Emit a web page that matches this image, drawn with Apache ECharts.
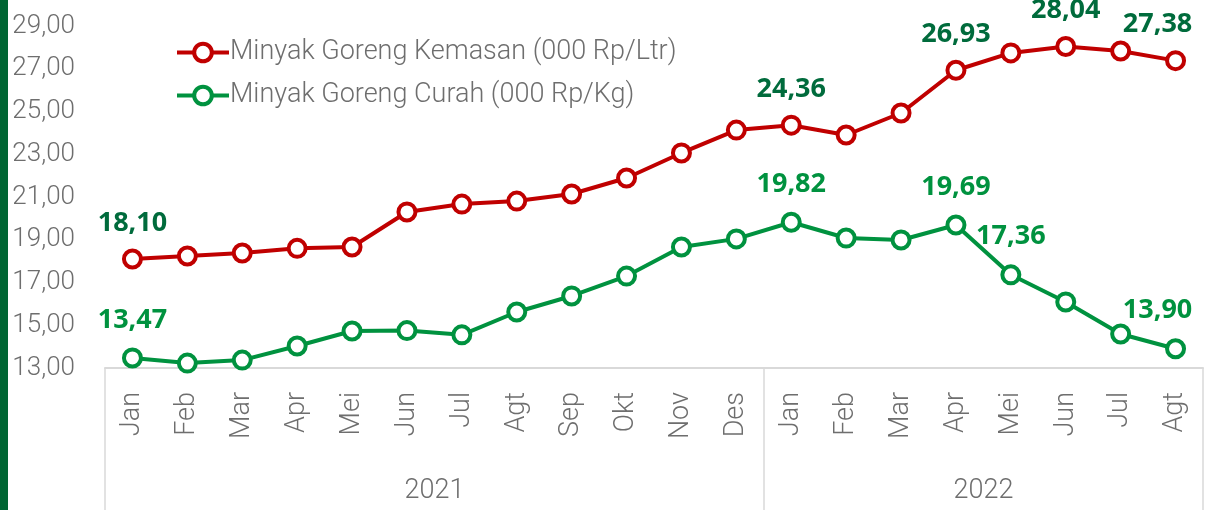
<!DOCTYPE html>
<html>
<head>
<meta charset="utf-8">
<script src="https://cdn.jsdelivr.net/npm/echarts@6/dist/echarts.min.js"></script>
<style>
  html, body { margin: 0; padding: 0; background: #fff; }
  #chart { width: 1206px; height: 510px; }
</style>
</head>
<body>
<div id="chart"></div>
<script>
var months = ['Jan', 'Feb', 'Mar', 'Apr', 'Mei', 'Jun', 'Jul', 'Agt', 'Sep', 'Okt', 'Nov', 'Des',
  'Jan', 'Feb', 'Mar', 'Apr', 'Mei', 'Jun', 'Jul', 'Agt']
var years = ['2021', '2022']
var yearStart = [0, 12, 20] // boundaries between years (month index)

var kemasan = [18.10, 18.24, 18.38, 18.60, 18.66, 20.30, 20.67, 20.81, 21.14, 21.89, 23.06, 24.13,
  24.36, 23.90, 24.93, 26.93, 27.74, 28.04, 27.83, 27.38]
var curah = [13.47, 13.23, 13.37, 14.03, 14.73, 14.75, 14.55, 15.62, 16.37, 17.30, 18.66, 19.04,
  19.82, 19.08, 18.99, 19.69, 17.36, 16.09, 14.59, 13.90]

var kemasanLabelIdx = [0, 12, 15, 17, 19]
var curahLabelIdx = [0, 12, 15, 16, 19]

var fmt = function(v) { return v.toFixed(2).replace('.', ',') }

function withLabels(values, idxs) {
  return values.map(function(v, i) {
    var item = { value: v }
    if (idxs.indexOf(i) >= 0) {
      item.label = { show: true }
      if (i === values.length - 1) item.label.offset = [-18, 0]
    }
    return item
  })
}

// year axis sits on the month boundaries: 21 slots
var yearSlots = []
for (var i = 0; i <= months.length; i++) yearSlots.push('')
for (var y = 0; y < years.length; y++) {
  yearSlots[Math.round((yearStart[y] + yearStart[y + 1]) / 2)] = years[y]
}

var axisFont = 'Roboto'
var axisWeight = 300
var gray = '#6e6e6e'
var lineGray = '#d9d9d9'

var chart = echarts.init(document.getElementById('chart'))

var option = {
  animation: false,
  grid: { left: 105, right: 1, top: 26, bottom: 142 },
  graphic: [{
    type: 'rect', left: 0, top: 0,
    shape: { width: 8, height: 510 },
    style: { fill: '#006633' }
  }],
  legend: {
    orient: 'vertical',
    left: 170,
    top: 34,
    itemWidth: 52,
    itemHeight: 22,
    itemGap: 16,
    lineStyle: { width: 4 },
    itemStyle: { borderWidth: 4 },
    textStyle: { fontFamily: axisFont, fontWeight: axisWeight, fontSize: 27, color: gray, padding: [0, 0, 0, -4] }
  },
  xAxis: [{
    type: 'category',
    data: months,
    axisLine: { lineStyle: { color: lineGray, width: 2 } },
    axisTick: { interval: 0, length: 79, lineStyle: { color: lineGray, width: 1.5 } },
    axisLabel: {
      interval: 0, rotate: 90, margin: 24,
      fontFamily: axisFont, fontWeight: axisWeight, fontSize: 27, color: gray
    }
  }, {
    type: 'category',
    data: yearSlots,
    boundaryGap: false,
    position: 'bottom',
    axisLine: { show: false },
    axisTick: {
      show: true, length: 142,
      interval: function(idx) { return yearStart.indexOf(idx) >= 0 },
      lineStyle: { color: lineGray, width: 1.5 }
    },
    axisLabel: {
      interval: 0, margin: 110,
      fontFamily: axisFont, fontWeight: axisWeight, fontSize: 27, color: gray
    }
  }],
  yAxis: {
    type: 'value',
    min: 13,
    max: 29,
    interval: 1,
    axisLine: { show: false },
    axisTick: { show: false },
    splitLine: { show: false },
    axisLabel: {
      margin: 30,
      fontFamily: axisFont, fontWeight: axisWeight, fontSize: 26, color: gray,
      formatter: function(v) { return (v % 2 === 1) ? fmt(v) : '' }
    }
  },
  series: [{
    name: 'Minyak Goreng Kemasan (000 Rp/Ltr)',
    type: 'line',
    data: withLabels(kemasan, kemasanLabelIdx),
    symbol: 'circle',
    symbolSize: 17,
    itemStyle: { color: '#fff', borderColor: '#C00000', borderWidth: 4 },
    lineStyle: { color: '#C00000', width: 4 },
    label: {
      show: false, position: 'top', distance: 12,
      fontFamily: 'Open Sans', fontWeight: 'bold', fontSize: 27, color: '#006B3C',
      formatter: function(p) { return fmt(p.value) }
    }
  }, {
    name: 'Minyak Goreng Curah (000 Rp/Kg)',
    type: 'line',
    data: withLabels(curah, curahLabelIdx),
    symbol: 'circle',
    symbolSize: 17,
    itemStyle: { color: '#fff', borderColor: '#00923F', borderWidth: 4 },
    lineStyle: { color: '#00923F', width: 4 },
    label: {
      show: false, position: 'top', distance: 14,
      fontFamily: 'Open Sans', fontWeight: 'bold', fontSize: 27, color: '#00923F',
      formatter: function(p) { return fmt(p.value) }
    }
  }]
}

chart.setOption(option)
</script>
</body>
</html>
